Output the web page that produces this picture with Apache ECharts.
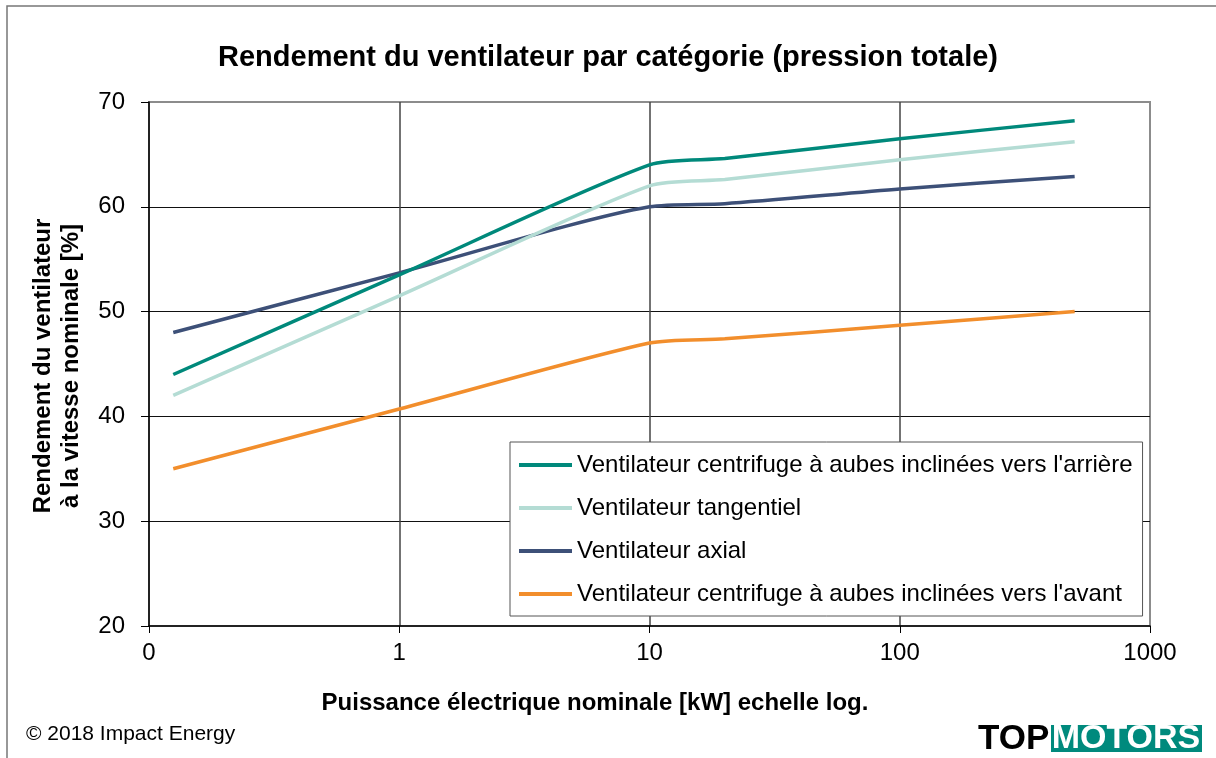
<!DOCTYPE html>
<html>
<head>
<meta charset="utf-8">
<script src="https://cdn.jsdelivr.net/npm/echarts@6/dist/echarts.min.js"></script>
<style>
html,body{margin:0;padding:0;background:#fff;}
#chart{width:1216px;height:758px;}
</style>
</head>
<body>
<div id="chart"></div>
<script>
// Power (kW, log scale)
const powerKW = [0.125, 1, 10, 20, 100, 500];
const seriesNames = [
  "Ventilateur centrifuge à aubes inclinées vers l'arrière",
  "Ventilateur tangentiel",
  "Ventilateur axial",
  "Ventilateur centrifuge à aubes inclinées vers l'avant"
];
const backwardCurved = [44.0, 53.5, 64.0, 64.6, 66.5, 68.2];
const tangential     = [42.0, 51.5, 62.0, 62.6, 64.5, 66.2];
const axial          = [48.0, 53.7, 60.0, 60.3, 61.7, 62.9];
const forwardCurved  = [35.0, 40.7, 47.0, 47.4, 48.7, 50.0];
const xTickLabels = {0.1: "0", 1: "1", 10: "10", 100: "100", 1000: "1000"};
const colors = ["#00897B", "#B4DCD4", "#3D5078", "#F28E2C"];

const FONT = "'Liberation Sans', Arial, sans-serif";
const allValues = [backwardCurved, tangential, axial, forwardCurved];

const chart = echarts.init(document.getElementById('chart'), null, {renderer: 'canvas'});
chart.setOption({
  animation: false,
  backgroundColor: '#fff',
  textStyle: {fontFamily: FONT},
  title: {
    text: 'Rendement du ventilateur par catégorie (pression totale)',
    left: 'center', top: 38,
    textStyle: {fontFamily: FONT, fontSize: 29, fontWeight: 'bold', color: '#000'}
  },
  grid: {left: 149, top: 102, right: 66, bottom: 132, show: true, borderColor: '#8c8c8c', borderWidth: 2, backgroundColor: 'transparent'},
  xAxis: {
    type: 'log', logBase: 10, min: 0.1, max: 1000,
    axisLine: {show: true, lineStyle: {color: '#000', width: 1.5}},
    axisTick: {show: true, length: 7, lineStyle: {color: '#000'}},
    minorTick: {show: false},
    axisLabel: {
      margin: 15, fontSize: 24, color: '#000', fontFamily: FONT,
      formatter: function (v) { return xTickLabels[v] !== undefined ? xTickLabels[v] : String(v); }
    },
    splitLine: {show: true, showMinLine: false, showMaxLine: false, lineStyle: {color: '#444', width: 1.5}}
  },
  yAxis: {
    type: 'value', min: 20, max: 70, interval: 10,
    axisLine: {show: true, lineStyle: {color: '#000', width: 1.5}},
    axisTick: {show: true, length: 8, lineStyle: {color: '#000'}},
    axisLabel: {margin: 24, fontSize: 24, color: '#000', fontFamily: FONT},
    splitLine: {show: true, showMinLine: false, showMaxLine: false, lineStyle: {color: '#111', width: 1}}
  },
  legend: {
    orient: 'vertical', left: 510, top: 442,
    padding: [11, 10, 10, 9], itemGap: 19,
    itemWidth: 53, itemHeight: 4, icon: 'rect',
    backgroundColor: '#fff', borderColor: '#555', borderWidth: 1,
    textStyle: {fontFamily: FONT, fontSize: 24, color: '#000', lineHeight: 24},
    data: seriesNames
  },
  series: seriesNames.map(function (name, i) {
    return {
      name: name, type: 'line', smooth: 0.25, showSymbol: false, symbol: 'none',
      color: colors[i],
      lineStyle: {color: colors[i], width: 3.5},
      data: powerKW.map(function (x, j) { return [x, allValues[i][j]]; }),
      z: 10 - i
    };
  }),
  graphic: [
    {type: 'rect', shape: {x: 7, y: 6, width: 1260, height: 800}, style: {fill: 'none', stroke: '#777', lineWidth: 1.5}, z: -10, silent: true},
    {type: 'text', x: 57, y: 366, rotation: Math.PI / 2,
      style: {text: 'Rendement du ventilateur\nà la vitesse nominale [%]', font: "bold 24px " + FONT, fill: '#000', align: 'center', verticalAlign: 'middle', lineHeight: 28}},
    {type: 'text', x: 595, y: 703,
      style: {text: 'Puissance électrique nominale [kW] echelle log.', font: "bold 24px " + FONT, fill: '#000', align: 'center', verticalAlign: 'middle'}},
    {type: 'text', x: 26, y: 734,
      style: {text: '© 2018 Impact Energy', font: "21px " + FONT, fill: '#000', align: 'left', verticalAlign: 'middle'}},
    {type: 'rect', shape: {x: 1051, y: 725, width: 151, height: 27}, style: {fill: '#008A7D'}},
    {type: 'text', x: 978, y: 739,
      style: {text: 'TOP', font: "900 35px " + FONT, fill: '#000', align: 'left', verticalAlign: 'middle'}},
    {type: 'text', x: 1126, y: 739,
      style: {text: 'MOTORS', font: "bold 34px " + FONT, fill: '#fff', align: 'center', verticalAlign: 'middle'}}
  ]
});
</script>
</body>
</html>
